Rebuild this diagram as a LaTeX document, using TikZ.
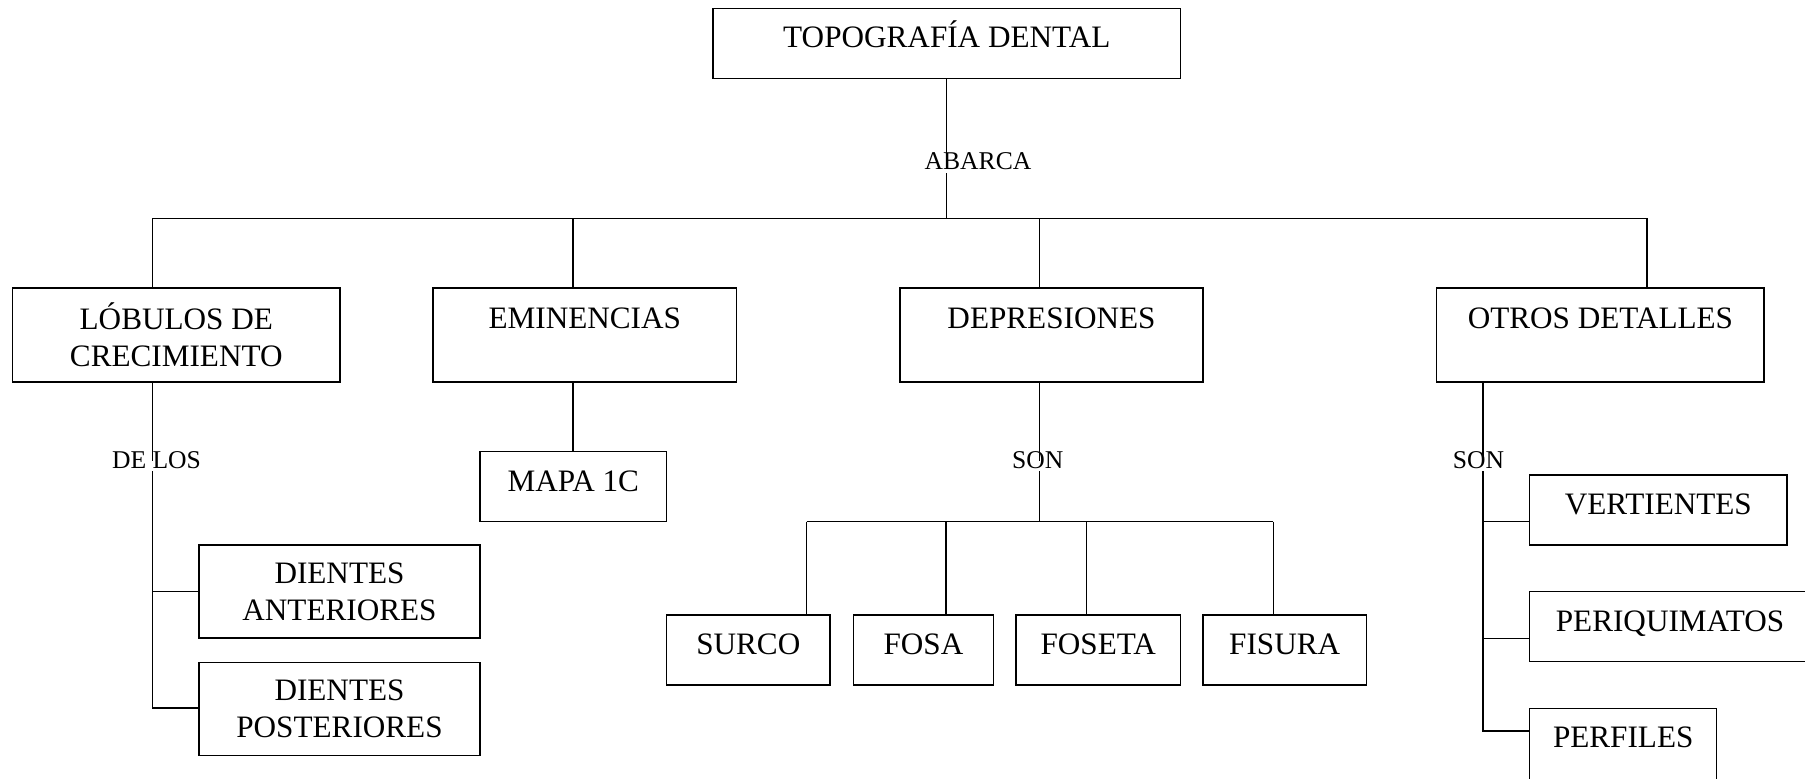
\documentclass[tikz,border=0pt]{standalone}
\usepackage{fontspec}
\setmainfont{Liberation Serif}
\usetikzlibrary{positioning}
\tikzset{line/.style={draw, line width=0.6pt}}

\begin{document}
\begin{tikzpicture}[x=0.5pt, y=-0.5pt,
  main/.style = {draw, line width=0.65pt, rectangle, inner sep=0pt, align=center, font=\fontsize{15.6}{18.5}\selectfont},
  flat/.style = {main, minimum height=35pt, text height=11.6pt, text depth=7pt},
  deep/.style = {main, minimum height=47pt},
  deepone/.style = {deep, text height=11.6pt, text depth=18.3pt},
  lab/.style = {fill=white, inner sep=0pt, text height=0.35em, text depth=0.15em, font=\fontsize{12.8}{15}\selectfont}]
\useasboundingbox (0,0) rectangle (1805,778);
\clip (0,0) rectangle (1805,778);

\node[flat, minimum width=233.75pt] (topo) at (946.8,43.3) {TOPOGRAFÍA DENTAL};
\node[deep, minimum width=163.7pt] (lobulos) at (176.3,335) {LÓBULOS DE\\CRECIMIENTO};
\node[deepone, minimum width=151.75pt] (eminencias) at (584.8,335) {EMINENCIAS};
\node[deepone, minimum width=151.5pt] (depresiones) at (1051.5,335) {DEPRESIONES};
\node[deepone, minimum width=163.6pt] (otros) at (1600.4,335) {OTROS DETALLES};
\node[flat, minimum width=93.25pt] (mapa) at (573.3,486.7) {MAPA 1C};
\node[deep, minimum width=140.5pt, minimum height=46.5pt] (anteriores) at (339.5,591.5) {DIENTES\\ANTERIORES};
\node[deep, minimum width=140.5pt, minimum height=46.5pt] (posteriores) at (339.5,708.7) {DIENTES\\POSTERIORES};
\node[flat, minimum width=81.75pt] (surco) at (748.3,650) {SURCO};
\node[flat, minimum width=70pt] (fosa) at (923.5,650) {FOSA};
\node[flat, minimum width=82.25pt] (foseta) at (1098.3,650) {FOSETA};
\node[flat, minimum width=81.7pt] (fisura) at (1284.7,650) {FISURA};
\node[flat, minimum width=128.65pt] (vertientes) at (1658.3,510) {VERTIENTES};
\node[flat, minimum width=140.5pt] (periquimatos) at (1670,626.7) {PERIQUIMATOS};
\node[flat, minimum width=93.5pt, minimum height=37pt, text depth=9pt] (perfiles) at (1623.2,745.3) {PERFILES};

% junctions
\coordinate (bus) at (946,218.3);
\coordinate (b1) at (152.7,218.3);
\coordinate (b2) at (573,218.3);
\coordinate (b3) at (1039.7,218.3);
\coordinate (b4) at (1647,218.3);
\coordinate (ja) at (152.7,591.7);
\coordinate (jp) at (152.7,708);
\coordinate (sub) at (1039.7,521.7);
\coordinate (s1) at (806.5,521.7);
\coordinate (s2) at (946,521.7);
\coordinate (s3) at (1086.4,521.7);
\coordinate (s4) at (1273.4,521.7);
\coordinate (jv) at (1483,521.7);
\coordinate (jq) at (1483,638.3);
\coordinate (jf) at (1483,731);

\draw[line] (topo.south) -- (topo.south |- bus);
\draw[line] (b1) -- (b4);
\draw[line] (b1) -- (b1 |- lobulos.north);
\draw[line] (b2) -- (b2 |- eminencias.north);
\draw[line] (b3) -- (b3 |- depresiones.north);
\draw[line] (b4) -- (b4 |- otros.north);
\draw[line] (b1 |- lobulos.south) -- (jp) -- (jp -| posteriores.west);
\draw[line] (ja) -- (ja -| anteriores.west);
\draw[line] (b2 |- eminencias.south) -- (b2 |- mapa.north);
\draw[line] (b3 |- depresiones.south) -- (sub);
\draw[line] (s1) -- (s4);
\draw[line] (s1) -- (s1 |- surco.north);
\draw[line] (s2) -- (s2 |- fosa.north);
\draw[line] (s3) -- (s3 |- foseta.north);
\draw[line] (s4) -- (s4 |- fisura.north);
\draw[line] (jv |- otros.south) -- (jf) -- (jf -| perfiles.west);
\draw[line] (jv) -- (jv -| vertientes.west);
\draw[line] (jq) -- (jq -| periquimatos.west);

\node[lab] (abarca) at (978,167.6) {ABARCA};
\node[lab] (delos) at (156.5,466.4) {DE LOS};
\node[lab] (son1) at (1037.7,466) {SON};
\node[lab] (son2) at (1478.5,466) {SON};
\end{tikzpicture}
\end{document}
